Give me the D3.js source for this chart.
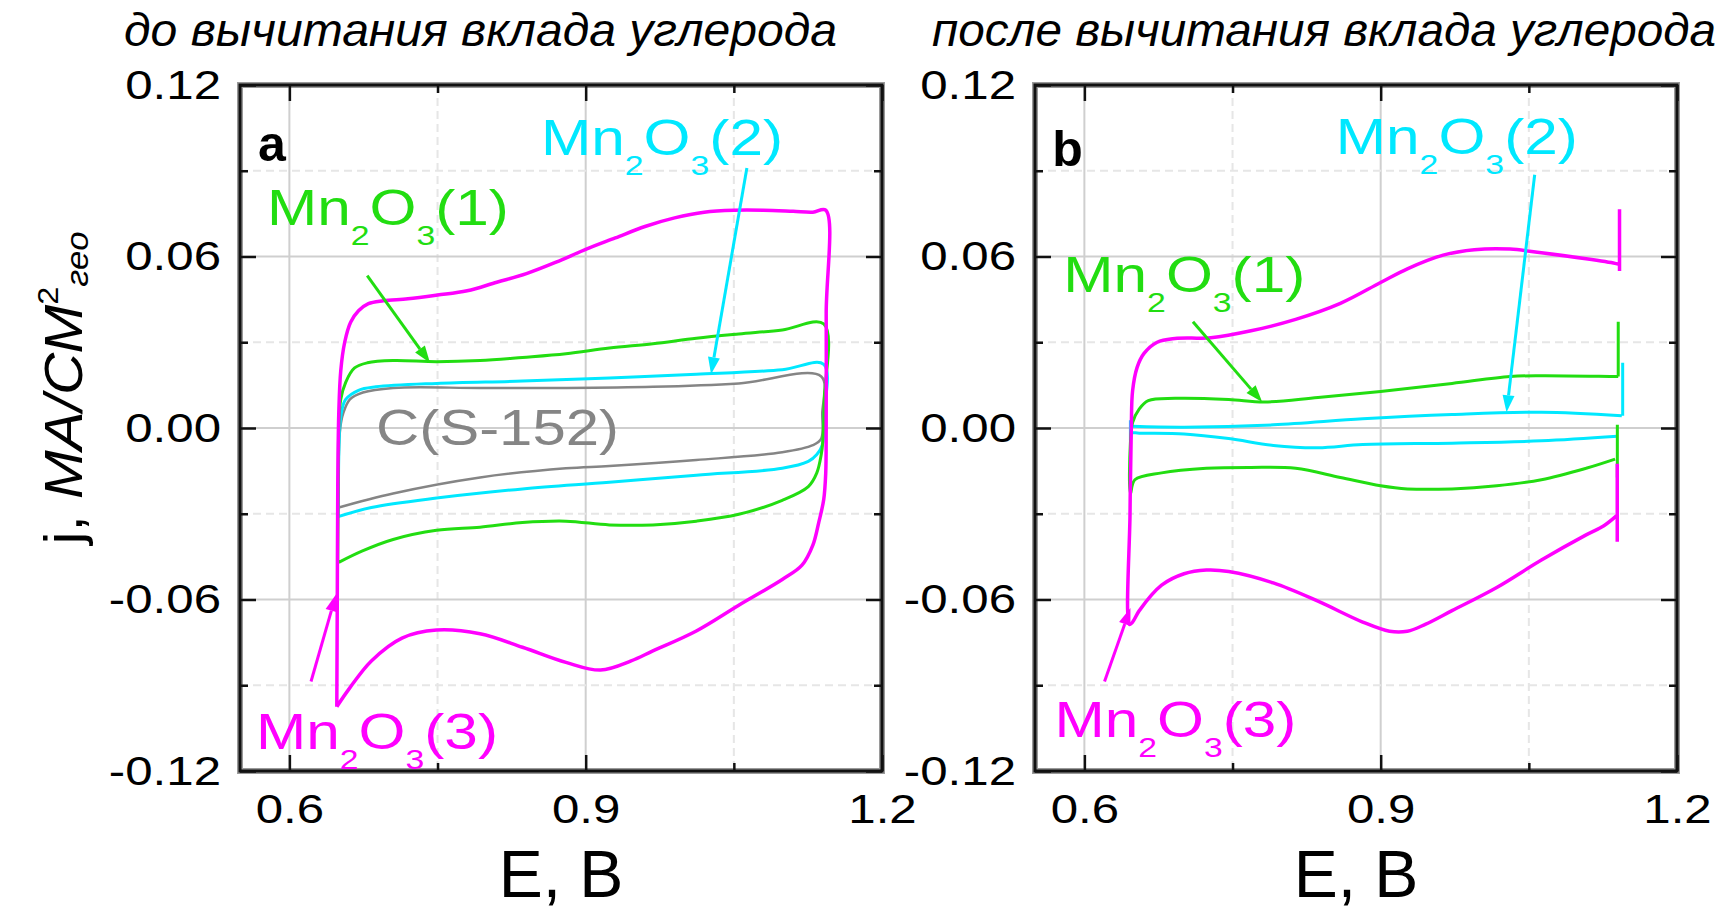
<!DOCTYPE html>
<html>
<head>
<meta charset="utf-8">
<script src="https://cdn.jsdelivr.net/npm/d3@7"></script>
<style>
body{margin:0;background:#fff;}
svg{font-family:"Liberation Sans",Arial,sans-serif;}
</style>
</head>
<body>
<script>
const WIDTH = 1723, HEIGHT = 911;
const TOP = 85, BOTTOM = 771;
const PANEL_X = [[240, 882], [1035, 1677]];

// axes
const xDomain = [0.55, 1.2];
const yDomain = [-0.12, 0.12];
const xMajor = [0.6, 0.9, 1.2];
const xMinor = [0.75, 1.05];
const yMajor = [-0.12, -0.06, 0, 0.06, 0.12];
const yMinor = [-0.09, -0.03, 0.03, 0.09];
const xTickLabels = ['0.6', '0.9', '1.2'];
const yTickLabels = ['-0.12', '-0.06', '0.00', '0.06', '0.12'];
const titles = ['до вычитания вклада углерода', 'после вычитания вклада углерода'];
const panelLetters = ['a', 'b'];

// panel a: [E, j]
const mn3A = [[0.648,-0.0975],[0.6485,-0.06],[0.649,-0.02],[0.650,0.005],[0.652,0.02],[0.656,0.030],[0.662,0.037],[0.670,0.041],[0.680,0.0435],[0.695,0.0445],[0.72,0.0452],[0.75,0.0465],[0.78,0.048],[0.81,0.051],[0.84,0.054],[0.87,0.058],[0.9,0.0625],[0.93,0.0665],[0.96,0.0705],[0.99,0.0735],[1.02,0.0755],[1.05,0.0762],[1.08,0.0762],[1.11,0.0758],[1.13,0.0755],[1.143,0.0762],
  [1.1435,0.04],[1.1435,0.0],[1.143,-0.016],[1.141,-0.025],[1.136,-0.033],[1.13,-0.041],[1.119,-0.048],[1.099,-0.053],[1.055,-0.062],[1.012,-0.071],[0.968,-0.078],[0.946,-0.0815],[0.915,-0.0847],[0.88,-0.082],[0.836,-0.0767],[0.793,-0.072],[0.749,-0.0707],[0.714,-0.0735],[0.683,-0.0815],[0.661,-0.091],[0.648,-0.0975]];
const mn1A = [[0.649,-0.047],[0.6495,-0.02],[0.650,0.0],[0.652,0.010],[0.657,0.016],[0.666,0.021],[0.679,0.0228],[0.705,0.0236],[0.749,0.0232],[0.793,0.0236],[0.836,0.0247],[0.880,0.026],[0.924,0.028],[0.968,0.0295],[1.012,0.0314],[1.055,0.0329],[1.099,0.0343],[1.141,0.0364],
  [1.1415,0.01],[1.140,-0.005],[1.1385,-0.0093],[1.134,-0.0157],[1.1254,-0.0205],[1.099,-0.0253],[1.055,-0.0302],[1.012,-0.0326],[0.968,-0.0339],[0.924,-0.0339],[0.880,-0.0326],[0.836,-0.0331],[0.793,-0.0347],[0.749,-0.0358],[0.705,-0.039],[0.674,-0.043],[0.650,-0.047]];
const mn2A = [[0.6495,-0.031],[0.650,-0.01],[0.651,0.0],[0.653,0.006],[0.657,0.010],[0.670,0.0132],[0.6875,0.0144],[0.749,0.0156],[0.836,0.0164],[0.924,0.0175],[1.012,0.0188],[1.099,0.0204],[1.141,0.0223],
  [1.1415,0.005],[1.1395,-0.006],[1.134,-0.0093],[1.1254,-0.0117],[1.099,-0.0141],[1.012,-0.0165],[0.924,-0.019],[0.836,-0.0213],[0.749,-0.0245],[0.683,-0.0278],[0.6495,-0.031]];
const carbonA = [[0.6495,-0.0278],[0.650,-0.01],[0.6515,0.0],[0.6545,0.0051],[0.6613,0.01],[0.6744,0.0124],[0.705,0.014],[0.793,0.014],[0.880,0.014],[0.968,0.0144],[1.055,0.0156],[1.1385,0.018],
  [1.1395,0.005],[1.1385,-0.0037],[1.13,-0.006],[1.099,-0.0085],[1.012,-0.0112],[0.924,-0.0133],[0.880,-0.0141],[0.793,-0.0173],[0.705,-0.0229],[0.650,-0.0278]];

// panel b (null = break in the trace)
const mn3B = [[1.1395,-0.0305],[1.126,-0.0342],[1.108,-0.0374],[1.0627,-0.0462],[1.0175,-0.0558],[0.9722,-0.0639],[0.9451,-0.0687],[0.927,-0.0711],[0.9089,-0.0711],[0.8818,-0.0679],[0.8365,-0.0606],[0.7913,-0.0542],[0.7461,-0.0502],[0.7235,-0.0497],[0.7009,-0.051],[0.6782,-0.055],[0.6556,-0.0639],[0.6488,-0.0679],[0.6457,-0.0687],
  [0.6462,-0.03],[0.6475,0.0],[0.6488,0.013],[0.6534,0.0212],[0.6602,0.026],[0.6737,0.030],[0.6918,0.0313],[0.728,0.0316],[0.7687,0.034],[0.8139,0.038],[0.8592,0.0436],[0.8999,0.0509],[0.927,0.0557],[0.9632,0.0605],[0.9948,0.0624],[1.031,0.0626],[1.0627,0.0613],[1.1079,0.0592],[1.1373,0.0576],[1.1418,0.0572],
  null,[1.1418,0.0765],[1.1418,0.0549],null,[1.1395,-0.0125],[1.1395,-0.0398]];
const mn1B = [[1.1373,-0.0109],[1.108,-0.0141],[1.0627,-0.0181],[1.0175,-0.0202],[0.9722,-0.0213],[0.927,-0.0213],[0.8999,-0.0202],[0.8592,-0.0173],[0.8139,-0.0141],[0.7687,-0.0138],[0.7235,-0.0141],[0.6782,-0.0157],[0.6511,-0.0181],[0.6466,-0.0229],
  [0.6466,-0.005],[0.6488,0.0019],[0.6556,0.0067],[0.6647,0.0096],[0.6918,0.0104],[0.7461,0.010],[0.7823,0.0091],[0.8365,0.0107],[0.8999,0.0128],[0.9722,0.0156],[1.031,0.018],[1.0627,0.0183],[1.1373,0.018],[1.1405,0.018],
  null,[1.1405,0.018],[1.1405,0.0372],null,[1.1396,0.0011],[1.1396,-0.0173]];
const mn2B = [[1.1396,-0.0029],[1.0627,-0.0045],[0.9722,-0.0053],[0.8818,-0.0058],[0.8365,-0.0069],[0.7913,-0.0061],[0.7461,-0.0037],[0.7009,-0.0021],[0.6556,-0.0018],[0.6475,-0.0016],
  null,[0.6466,0.0027],[0.6466,-0.0045],null,
  [0.6488,0.0006],[0.7009,0.0003],[0.7913,0.0011],[0.8818,0.0032],[0.9722,0.0047],[1.0627,0.0055],[1.1441,0.0043],
  null,[1.145,0.0043],[1.145,0.0228]];

// annotation arrows [from, to] and label anchors, in E / j units
const arrowsA = [[[0.6788,0.0533],[0.7423,0.0228]], [[1.0632,0.091],[1.0269,0.0188]], [[0.6219,-0.0887],[0.6473,-0.0582]]];
const arrowsB = [[[0.7099,0.0372],[0.78,0.0091]], [[1.0559,0.0886],[1.0274,0.0055]], [[0.6204,-0.0887],[0.6466,-0.063]]];
const labelAtA = [[0.5773,0.0709], [0.8548,0.0955], [0.5662,-0.1122], [0.6877,-0.0061]];
const labelAtB = [[0.5787,0.0477], [0.8546,0.0958], [0.5697,-0.1080]];
const letterAt = [[0.5682,0.0934], [0.5674,0.0916]];
const labelParts = [['Mn','2','O','3','(1)'], ['Mn','2','O','3','(2)'], ['Mn','2','O','3','(3)']];
const carbonLabel = 'C(S-152)';

const COLORS = ['#22dd11', '#00e8ff', '#ff00ff', '#858585'];

const svg = d3.select('body').append('svg').attr('width', WIDTH).attr('height', HEIGHT);

// widen glyphs a little, the original lettering is stretched sideways
function stretch(sel, factor){
  sel.each(function(){
    const w = this.getComputedTextLength();
    d3.select(this).attr('textLength', w * factor).attr('lengthAdjust', 'spacingAndGlyphs');
  });
}

function mnLabel(g, parts, px, py, color, width){
  const t = g.append('text').attr('x', px).attr('y', py).attr('fill', color)
    .attr('font-size', 50).attr('textLength', width).attr('lengthAdjust', 'spacingAndGlyphs');
  t.append('tspan').text(parts[0]);
  t.append('tspan').attr('dy', 20).attr('font-size', 28).text(parts[1]);
  t.append('tspan').attr('dy', -20).text(parts[2]);
  t.append('tspan').attr('dy', 20).attr('font-size', 28).text(parts[3]);
  t.append('tspan').attr('dy', -20).text(parts[4]);
}

function arrow(g, x, y, a, color){
  const p0 = [x(a[0][0]), y(a[0][1])], p1 = [x(a[1][0]), y(a[1][1])];
  const dx = p1[0] - p0[0], dy = p1[1] - p0[1], L = Math.hypot(dx, dy);
  const ux = dx / L, uy = dy / L, head = 17, hw = 6;
  const b = [p1[0] - ux * head, p1[1] - uy * head];
  g.append('line').attr('x1', p0[0]).attr('y1', p0[1]).attr('x2', b[0]).attr('y2', b[1])
    .attr('stroke', color).attr('stroke-width', 3);
  g.append('path').attr('fill', color)
    .attr('d', `M${p1[0]},${p1[1]}L${b[0] - uy * hw},${b[1] + ux * hw}L${b[0] + uy * hw},${b[1] - ux * hw}Z`);
}

function drawPanel(idx, series, arrows, labelAt){
  const [x0, x1] = PANEL_X[idx];
  const x = d3.scaleLinear().domain(xDomain).range([x0, x1]);
  const y = d3.scaleLinear().domain(yDomain).range([BOTTOM, TOP]);
  const g = svg.append('g');

  // grid
  const grid = g.append('g');
  grid.selectAll('.gx').data(xMajor.filter(d => d < xDomain[1])).enter().append('line')
    .attr('x1', d => x(d)).attr('x2', d => x(d)).attr('y1', TOP).attr('y2', BOTTOM)
    .attr('stroke', '#cfcfcf').attr('stroke-width', 2);
  grid.selectAll('.gxm').data(xMinor).enter().append('line')
    .attr('x1', d => x(d)).attr('x2', d => x(d)).attr('y1', TOP).attr('y2', BOTTOM)
    .attr('stroke', '#e6e6e6').attr('stroke-width', 2).attr('stroke-dasharray', '8,5');
  grid.selectAll('.gy').data(yMajor.filter(d => d > yDomain[0] && d < yDomain[1])).enter().append('line')
    .attr('y1', d => y(d)).attr('y2', d => y(d)).attr('x1', x0).attr('x2', x1)
    .attr('stroke', '#cfcfcf').attr('stroke-width', 2);
  grid.selectAll('.gym').data(yMinor).enter().append('line')
    .attr('y1', d => y(d)).attr('y2', d => y(d)).attr('x1', x0).attr('x2', x1)
    .attr('stroke', '#e6e6e6').attr('stroke-width', 2).attr('stroke-dasharray', '8,5');

  // curves
  const line = d3.line().defined(d => d !== null)
    .x(d => x(d[0])).y(d => y(d[1])).curve(d3.curveCatmullRom.alpha(0.5));
  series.forEach(s => {
    g.append('path').attr('d', line(s.pts)).attr('fill', 'none')
      .attr('stroke', s.color).attr('stroke-width', s.w).attr('stroke-linejoin', 'round');
  });

  // frame
  g.append('rect').attr('x', x0).attr('y', TOP).attr('width', x1 - x0).attr('height', BOTTOM - TOP)
    .attr('fill', 'none').attr('stroke', '#9a9a9a').attr('stroke-width', 6);
  g.append('rect').attr('x', x0).attr('y', TOP).attr('width', x1 - x0).attr('height', BOTTOM - TOP)
    .attr('fill', 'none').attr('stroke', '#111').attr('stroke-width', 3);

  // ticks (inward, four sides)
  const axes = [
    [d3.axisBottom(x), `translate(0,${BOTTOM})`, xMajor, xMinor, true],
    [d3.axisTop(x), `translate(0,${TOP})`, xMajor, xMinor, false],
    [d3.axisLeft(y), `translate(${x0},0)`, yMajor, yMinor, true],
    [d3.axisRight(y), `translate(${x1},0)`, yMajor, yMinor, false]
  ];
  axes.forEach(([ax, tr, maj, min, labels], k) => {
    const isX = k < 2;
    const a = g.append('g').attr('transform', tr)
      .call(ax.tickValues(maj).tickSizeInner(-16).tickSizeOuter(0)
        .tickPadding(isX ? 23 : 19)
        .tickFormat(labels ? (d, i) => (isX ? xTickLabels : yTickLabels)[i] : ''));
    a.select('.domain').remove();
    a.selectAll('line').attr('stroke', '#111').attr('stroke-width', 2.5);
    a.selectAll('text').attr('fill', '#000').style('font-size', '41px')
      .style('font-family', '"Liberation Sans",Arial,sans-serif');
    if (labels) stretch(a.selectAll('text'), 1.2);
    const m = g.append('g').attr('transform', tr)
      .call(ax.tickValues(min).tickSizeInner(-8).tickSizeOuter(0).tickFormat(''));
    m.select('.domain').remove();
    m.selectAll('line').attr('stroke', '#111').attr('stroke-width', 2.5);
  });

  // titles
  svg.append('text').attr('x', (x0 + x1) / 2).attr('y', 897).attr('text-anchor', 'middle')
    .attr('font-size', 66).text('E, B');
  const tw = [713, 784][idx];
  const tx = [124, 932][idx];
  svg.append('text').attr('x', tx).attr('y', 46).attr('font-size', 46).attr('font-style', 'italic')
    .attr('textLength', tw).attr('lengthAdjust', 'spacingAndGlyphs').text(titles[idx]);

  // panel letter
  g.append('text').attr('x', x(letterAt[idx][0])).attr('y', y(letterAt[idx][1]))
    .attr('font-size', 50).attr('font-weight', 'bold').text(panelLetters[idx]);

  // labels and arrows
  labelParts.forEach((p, i) => {
    mnLabel(g, p, x(labelAt[i][0]), y(labelAt[i][1]), COLORS[i], 242);
  });
  if (labelAt.length > 3) {
    g.append('text').attr('x', x(labelAt[3][0])).attr('y', y(labelAt[3][1]))
      .attr('fill', COLORS[3]).attr('font-size', 50)
      .attr('textLength', 243).attr('lengthAdjust', 'spacingAndGlyphs').text(carbonLabel);
  }
  arrows.forEach((a, i) => arrow(g, x, y, a, COLORS[i]));
}

drawPanel(0, [
  {pts: carbonA, color: COLORS[3], w: 2.5},
  {pts: mn2A, color: COLORS[1], w: 3},
  {pts: mn1A, color: COLORS[0], w: 3},
  {pts: mn3A, color: COLORS[2], w: 3.5}
], arrowsA, labelAtA);

drawPanel(1, [
  {pts: mn2B, color: COLORS[1], w: 3},
  {pts: mn1B, color: COLORS[0], w: 3},
  {pts: mn3B, color: COLORS[2], w: 3.5}
], arrowsB, labelAtB);

// y axis title
const yt = svg.append('text').attr('transform', 'translate(82,388) rotate(-90)')
  .attr('text-anchor', 'middle').attr('font-size', 54)
  .attr('textLength', 313).attr('lengthAdjust', 'spacingAndGlyphs');
yt.append('tspan').text('j, ');
yt.append('tspan').attr('font-style', 'italic').text('МА/СМ');
yt.append('tspan').attr('dy', -24).attr('font-size', 30).text('2');
yt.append('tspan').attr('dy', 30).attr('font-size', 32).attr('font-style', 'italic').text('гео');
</script>
</body>
</html>
